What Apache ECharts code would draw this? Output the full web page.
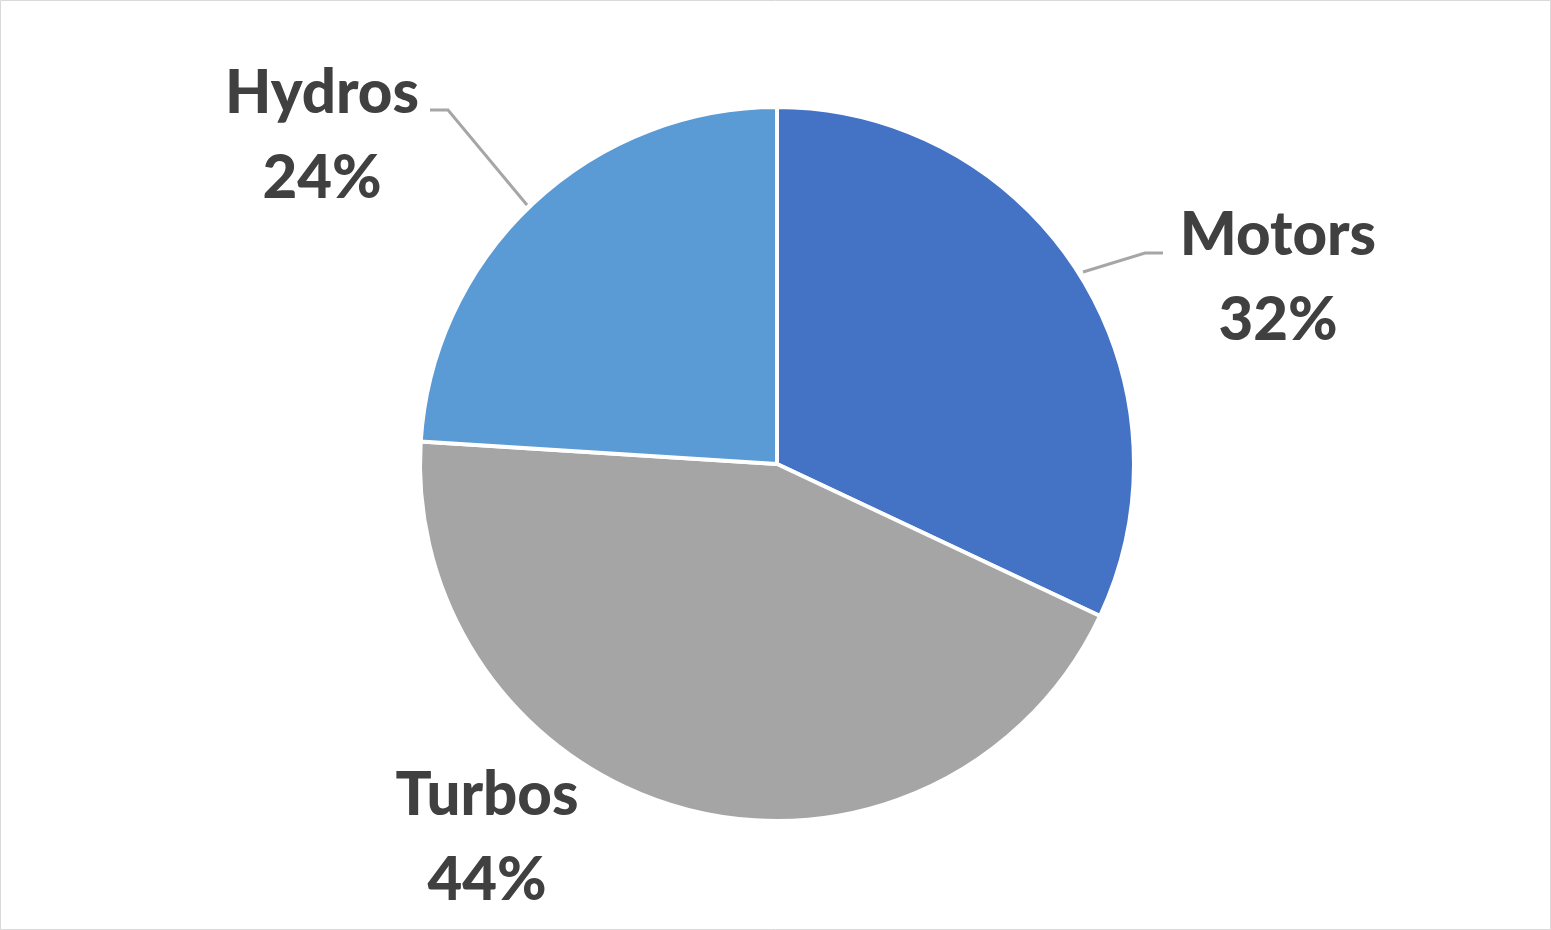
<!DOCTYPE html>
<html>
<head>
<meta charset="utf-8">
<script src="https://cdn.jsdelivr.net/npm/echarts@6/dist/echarts.min.js"></script>
<style>
  html, body { margin: 0; padding: 0; background: #fff; }
  #main { width: 1551px; height: 930px; }
</style>
</head>
<body>
<div id="main"></div>
<script>
// data
var categories = ['Motors', 'Turbos', 'Hydros'];
var shares = [32, 44, 24];

// where each label sits (text block centre) and its leader line
var labelSpots = {
    Motors: { x: 1278, y: 278, line: [[1083, 272], [1145, 253], [1163, 253]] },
    Turbos: { x: 487, y: 838, line: null },
    Hydros: { x: 322, y: 136, line: [[527, 205], [448, 110], [430, 110]] }
};

var chart = echarts.init(document.getElementById('main'));

chart.setOption({
    backgroundColor: '#fff',
    animation: false,
    color: ['#4472C4', '#A5A5A5', '#5B9BD5'],
    graphic: [{
        type: 'rect',
        shape: { x: 0.5, y: 0.5, width: 1550, height: 929 },
        style: { fill: 'none', stroke: '#D9D9D9', lineWidth: 1 }
    }],
    series: [{
        type: 'pie',
        center: [777, 464],
        radius: 357,
        startAngle: 90,
        clockwise: true,
        percentPrecision: 0,
        itemStyle: { borderColor: '#fff', borderWidth: 4 },
        label: {
            show: true,
            position: 'outside',
            formatter: '{b}\n{d}%',
            fontFamily: 'Lato',
            fontWeight: 900,
            fontSize: 60,
            lineHeight: 85,
            color: '#404040',
            align: 'center'
        },
        labelLine: {
            show: true,
            lineStyle: { color: '#A6A6A6', width: 3 }
        },
        labelLayout: function (params) {
            var name = categories[params.dataIndex];
            var spot = labelSpots[name];
            var out = {
                x: spot.x,
                y: spot.y,
                align: 'center',
                verticalAlign: 'middle'
            };
            if (spot.line) out.labelLinePoints = spot.line;
            return out;
        },
        data: categories.map(function (c, i) {
            var item = { name: c, value: shares[i] };
            if (!labelSpots[c].line) item.labelLine = { show: false };
            return item;
        })
    }]
});
</script>
</body>
</html>
